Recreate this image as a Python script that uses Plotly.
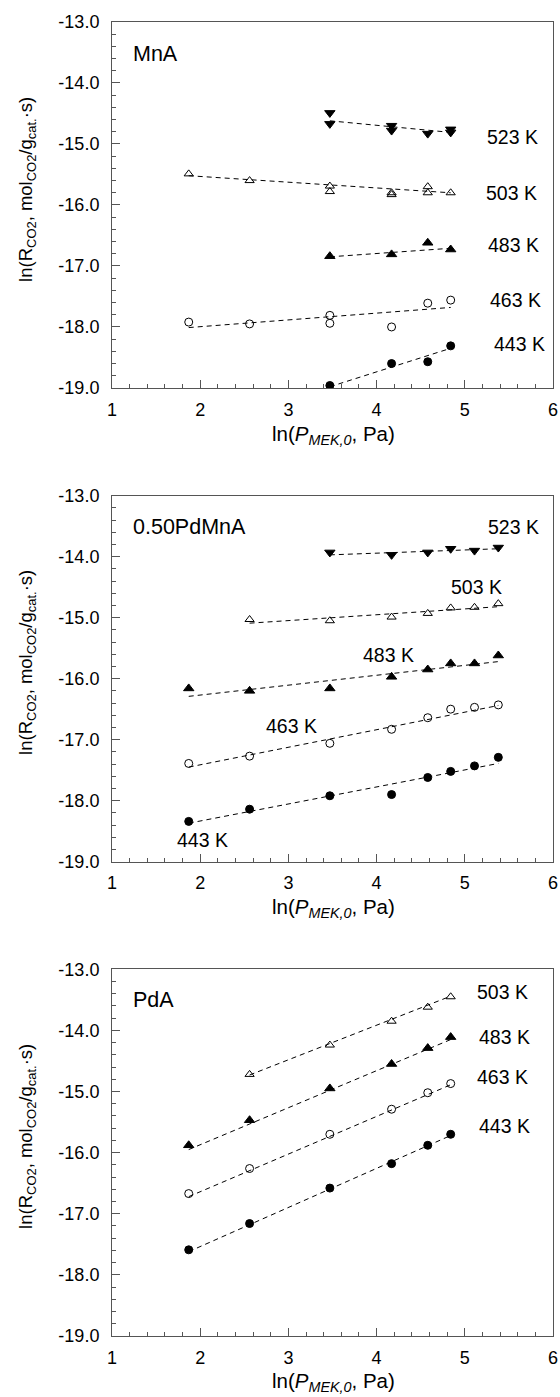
import plotly.graph_objects as go

# ---------------- data ----------------
# Panel 1: MnA
mna_523_x = [3.47, 3.47, 4.17, 4.17, 4.58, 4.84, 4.84]
mna_523_y = [-14.49, -14.67, -14.70, -14.78, -14.83, -14.76, -14.81]
mna_503_x = [1.87, 2.56, 3.47, 3.47, 4.17, 4.17, 4.58, 4.58, 4.84]
mna_503_y = [-15.49, -15.60, -15.69, -15.78, -15.80, -15.83, -15.70, -15.80, -15.80]
mna_483_x = [3.47, 4.17, 4.58, 4.84]
mna_483_y = [-16.84, -16.81, -16.62, -16.73]
mna_463_x = [1.87, 2.56, 3.47, 3.47, 4.17, 4.58, 4.84]
mna_463_y = [-17.92, -17.95, -17.81, -17.94, -18.00, -17.61, -17.56]
mna_443_x = [3.47, 4.17, 4.58, 4.84]
mna_443_y = [-18.96, -18.60, -18.57, -18.31]
mna_fit_523 = ([3.47, 4.84], [-14.62, -14.81])
mna_fit_503 = ([1.87, 4.84], [-15.52, -15.80])
mna_fit_483 = ([3.47, 4.84], [-16.85, -16.71])
mna_fit_463 = ([1.87, 4.84], [-18.01, -17.68])
mna_fit_443 = ([3.47, 4.84], [-18.98, -18.35])

# Panel 2: 0.50PdMnA
pm_x8 = [1.87, 2.56, 3.47, 4.17, 4.58, 4.84, 5.11, 5.38]
pm_523_x = [3.47, 4.17, 4.58, 4.84, 5.11, 5.38]
pm_523_y = [-13.93, -13.97, -13.93, -13.87, -13.90, -13.85]
pm_503_x = [2.56, 3.47, 4.17, 4.58, 4.84, 5.11, 5.38]
pm_503_y = [-15.03, -15.05, -14.99, -14.93, -14.84, -14.83, -14.77]
pm_483_y = [-16.16, -16.20, -16.16, -15.97, -15.85, -15.75, -15.75, -15.62]
pm_463_y = [-17.39, -17.27, -17.06, -16.83, -16.64, -16.50, -16.47, -16.43]
pm_443_y = [-18.34, -18.14, -17.92, -17.90, -17.62, -17.52, -17.43, -17.29]
pm_fit_523 = ([3.47, 5.38], [-13.97, -13.87])
pm_fit_503 = ([2.56, 5.38], [-15.09, -14.82])
pm_fit_483 = ([1.87, 5.38], [-16.29, -15.72])
pm_fit_463 = ([1.87, 5.38], [-17.45, -16.44])
pm_fit_443 = ([1.87, 5.38], [-18.37, -17.39])

# Panel 3: PdA
pd_x6 = [1.87, 2.56, 3.47, 4.17, 4.58, 4.84]
pd_503_x = [2.56, 3.47, 4.17, 4.58, 4.84]
pd_503_y = [-14.72, -14.24, -13.85, -13.62, -13.45]
pd_483_y = [-15.88, -15.47, -14.95, -14.55, -14.29, -14.11]
pd_463_y = [-16.67, -16.26, -15.70, -15.29, -15.02, -14.87]
pd_443_y = [-17.59, -17.16, -16.58, -16.18, -15.88, -15.70]
pd_fit_503 = ([2.56, 4.84], [-14.73, -13.44])
pd_fit_483 = ([1.87, 4.84], [-15.95, -14.15])
pd_fit_463 = ([1.87, 4.84], [-16.72, -14.89])
pd_fit_443 = ([1.87, 4.84], [-17.62, -15.72])

x_ticks = [1, 2, 3, 4, 5, 6]
x_ticktext = ["1", "2", "3", "4", "5", "6"]
y_ticks = [-19, -18, -17, -16, -15, -14, -13]
y_ticktext = ["-19.0", "-18.0", "-17.0", "-16.0", "-15.0", "-14.0", "-13.0"]

# series labels: (text, x, y)
mna_labels = [("523 K", 5.54, -14.89), ("503 K", 5.53, -15.81), ("483 K", 5.55, -16.66),
              ("463 K", 5.57, -17.55), ("443 K", 5.62, -18.28)]
pm_labels = [("523 K", 5.55, -13.52), ("503 K", 5.13, -14.50), ("483 K", 4.14, -15.62),
             ("463 K", 3.04, -16.78), ("443 K", 2.03, -18.64)]
pd_labels = [("503 K", 5.43, -13.38), ("483 K", 5.45, -14.11), ("463 K", 5.43, -14.77),
             ("443 K", 5.45, -15.57)]
panel_names = ["MnA", "0.50PdMnA", "PdA"]

# ---------------- figure ----------------
FONT = "Liberation Sans, Arial, Helvetica, sans-serif"
AX = "#555555"
fig = go.Figure()

def add_series(x, y, symbol, size, xa, ya):
    fig.add_trace(go.Scatter(x=x, y=y, mode="markers", xaxis=xa, yaxis=ya,
                             marker=dict(symbol=symbol, size=size, color="black",
                                         line=dict(color="black", width=1)),
                             showlegend=False, hoverinfo="skip"))

def add_fit(fit, xa, ya):
    fig.add_trace(go.Scatter(x=fit[0], y=fit[1], mode="lines", xaxis=xa, yaxis=ya,
                             line=dict(color="black", width=1, dash="5px,4px"),
                             showlegend=False, hoverinfo="skip"))

# panel 1
for fit in [mna_fit_523, mna_fit_503, mna_fit_483, mna_fit_463, mna_fit_443]:
    add_fit(fit, "x", "y")
add_series(mna_523_x, mna_523_y, "triangle-down", 9, "x", "y")
add_series(mna_503_x, mna_503_y, "triangle-up-open", 8, "x", "y")
add_series(mna_483_x, mna_483_y, "triangle-up", 9, "x", "y")
add_series(mna_463_x, mna_463_y, "circle-open", 8, "x", "y")
add_series(mna_443_x, mna_443_y, "circle", 8, "x", "y")

# panel 2
for fit in [pm_fit_523, pm_fit_503, pm_fit_483, pm_fit_463, pm_fit_443]:
    add_fit(fit, "x2", "y2")
add_series(pm_523_x, pm_523_y, "triangle-down", 9, "x2", "y2")
add_series(pm_503_x, pm_503_y, "triangle-up-open", 8, "x2", "y2")
add_series(pm_x8, pm_483_y, "triangle-up", 9, "x2", "y2")
add_series(pm_x8, pm_463_y, "circle-open", 8, "x2", "y2")
add_series(pm_x8, pm_443_y, "circle", 8, "x2", "y2")

# panel 3
for fit in [pd_fit_503, pd_fit_483, pd_fit_463, pd_fit_443]:
    add_fit(fit, "x3", "y3")
add_series(pd_503_x, pd_503_y, "triangle-up-open", 8, "x3", "y3")
add_series(pd_x6, pd_483_y, "triangle-up", 9, "x3", "y3")
add_series(pd_x6, pd_463_y, "circle-open", 8, "x3", "y3")
add_series(pd_x6, pd_443_y, "circle", 8, "x3", "y3")

domains = [[0.7215, 1.0], [0.3610, 0.6395], [0.0, 0.2791]]

def xaxis_cfg(anchor):
    return dict(range=[1, 6], domain=[0, 1], anchor=anchor, tickvals=x_ticks,
                ticktext=x_ticktext, ticks="inside", ticklen=8, tickwidth=1,
                tickcolor=AX, showline=True, linecolor=AX, linewidth=1, mirror=True,
                showgrid=False, zeroline=False, ticklabelstandoff=5,
                tickfont=dict(family=FONT, size=18, color="black"),
                minor=dict(ticks="inside", ticklen=4, tick0=1, dtick=0.2,
                           tickcolor=AX, showgrid=False))

def yaxis_cfg(anchor, dom):
    return dict(range=[-19, -13], domain=dom, anchor=anchor, tickvals=y_ticks,
                ticktext=y_ticktext, ticks="inside", ticklen=8, tickwidth=1,
                tickcolor=AX, showline=True, linecolor=AX, linewidth=1, mirror=True,
                showgrid=False, zeroline=False, ticklabelstandoff=8,
                tickfont=dict(family=FONT, size=18, color="black"),
                minor=dict(ticks="inside", ticklen=4, tick0=-19, dtick=0.2,
                           tickcolor=AX, showgrid=False))

annotations = []
for (labels, xr, yr) in [(mna_labels, "x", "y"), (pm_labels, "x2", "y2"), (pd_labels, "x3", "y3")]:
    for (t, lx, ly) in labels:
        annotations.append(dict(text=t, x=lx, y=ly, xref=xr, yref=yr, showarrow=False,
                                xanchor="center", yanchor="middle",
                                font=dict(family=FONT, size=19.5, color="black")))

name_pos = [(-13.52, "x", "y"), (-13.52, "x2", "y2"), (-13.50, "x3", "y3")]
for name, (ny, xr, yr) in zip(panel_names, name_pos):
    annotations.append(dict(text=name, x=1.22, y=ny, xref=xr, yref=yr, showarrow=False,
                            xanchor="left", yanchor="middle",
                            font=dict(family=FONT, size=21.5, color="black")))

ytitle = "ln(R<sub>CO2</sub>, mol<sub>CO2</sub>/g<sub>cat.</sub>·s)"
xtitle = "ln(<i>P</i><sub><i>MEK,0</i></sub>, Pa)"
H = 1397
T, B = 22, 61
plot_h = H - T - B
for top_px in [22, 495, 969]:
    yc = top_px + 167
    annotations.append(dict(text=ytitle, textangle=-90, x=-0.193, y=1 - (yc - T) / plot_h,
                            xref="paper", yref="paper", showarrow=False,
                            xanchor="center", yanchor="middle",
                            font=dict(family=FONT, size=18.5, color="black")))
    xc = top_px + 366 + 47
    annotations.append(dict(text=xtitle, x=0.502, y=1 - (xc - T) / plot_h,
                            xref="paper", yref="paper", showarrow=False,
                            xanchor="center", yanchor="middle",
                            font=dict(family=FONT, size=20.5, color="black")))

fig.update_layout(
    width=560, height=H,
    margin=dict(l=112, r=7, t=T, b=B, autoexpand=False),
    paper_bgcolor="white", plot_bgcolor="white",
    xaxis=xaxis_cfg("y"), yaxis=yaxis_cfg("x", domains[0]),
    xaxis2=xaxis_cfg("y2"), yaxis2=yaxis_cfg("x2", domains[1]),
    xaxis3=xaxis_cfg("y3"), yaxis3=yaxis_cfg("x3", domains[2]),
    annotations=annotations,
    showlegend=False,
    font=dict(family=FONT, color="black"),
)

fig.write_html("out.html")
